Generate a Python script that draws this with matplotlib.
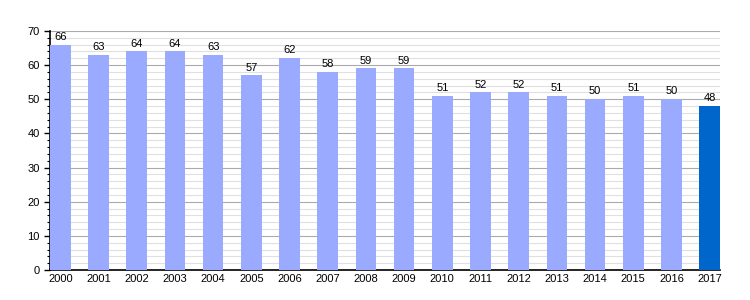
import matplotlib.pyplot as plt
from matplotlib.ticker import MultipleLocator

# ---- data ----
years = [str(y) for y in range(2000, 2018)]
values = [66, 63, 64, 64, 63, 57, 62, 58, 59, 59, 51, 52, 52, 51, 50, 51, 50, 48]

colors = ['#99AAFF'] * (len(years) - 1) + ['#0066CC']

plt.rcParams['font.family'] = ['Liberation Sans', 'DejaVu Sans']

fig = plt.figure(figsize=(7.5, 3), dpi=100)
ax = fig.add_axes([0.0667, 0.1, 0.8933, 0.797])

x = list(range(len(years)))
ax.bar(x, values, width=0.54, color=colors, zorder=3)

for xi, v in zip(x, values):
    ax.text(xi, v + 0.8, str(v), ha='center', va='bottom', fontsize=8, zorder=4)

ax.set_xlim(-0.27, len(years) - 1 + 0.27)
ax.set_ylim(0, 70)
ax.set_xticks(x)
ax.set_xticklabels(years, fontsize=8)
ax.yaxis.set_major_locator(MultipleLocator(10))
ax.yaxis.set_minor_locator(MultipleLocator(2))
ax.tick_params(axis='y', labelsize=8, direction='out', length=4, width=1)
ax.tick_params(axis='y', which='minor', length=2, width=0.8)
ax.tick_params(axis='x', length=0, pad=3)

ax.grid(axis='y', which='major', color='#aaaaaa', linewidth=0.8, zorder=0)
ax.grid(axis='y', which='minor', color='#e0e0e0', linewidth=0.8, zorder=0)

ax.spines['right'].set_visible(False)
ax.spines['top'].set_visible(False)
ax.spines['left'].set_linewidth(1.2)
ax.spines['bottom'].set_linewidth(1.2)

fig.savefig('out.png', dpi=100)
